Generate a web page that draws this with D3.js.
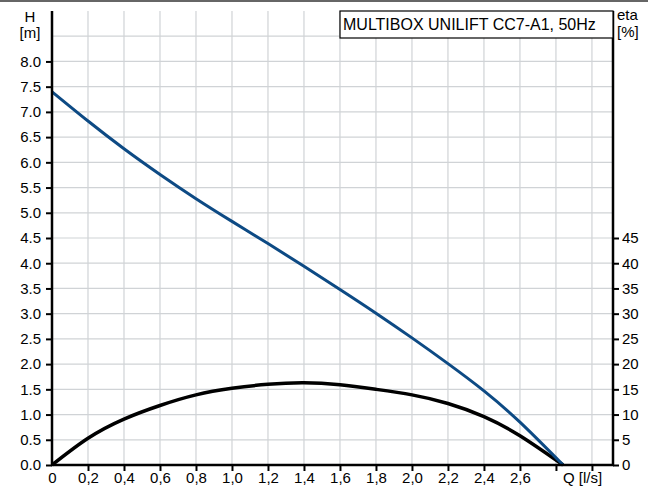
<!DOCTYPE html>
<html>
<head>
<meta charset="utf-8">
<script src="https://cdn.jsdelivr.net/npm/d3@7"></script>
<style>
  body { margin: 0; background: #fff; }
  svg { display: block; font-family: "Liberation Sans", Arial, sans-serif; }
</style>
</head>
<body>
<div id="chart"></div>
<script>
// Flow rate Q [l/s] where curves were read
var flow = [0, 0.2, 0.4, 0.6, 0.8, 1.0, 1.2, 1.4, 1.6, 1.8, 2.0, 2.2, 2.4, 2.6, 2.84];
// Head H [m]
var head = [7.40, 6.82, 6.27, 5.76, 5.28, 4.83, 4.39, 3.94, 3.48, 3.01, 2.52, 2.01, 1.47, 0.85, 0];
// Efficiency eta [%]
var eta = [0, 5.3, 9.1, 11.8, 13.9, 15.2, 16.0, 16.3, 15.9, 15.0, 13.9, 12.2, 9.6, 5.8, 0];

var hTicks = [0, 0.5, 1.0, 1.5, 2.0, 2.5, 3.0, 3.5, 4.0, 4.5, 5.0, 5.5, 6.0, 6.5, 7.0, 7.5, 8.0];
var etaTicks = [0, 5, 10, 15, 20, 25, 30, 35, 40, 45];
var title = "MULTIBOX UNILIFT CC7-A1, 50Hz";

var W = 648, H = 487;
var plot = {left: 52, right: 613, top: 11, bottom: 465};

var svg = d3.select("#chart").append("svg")
  .attr("width", W).attr("height", H);

var x = d3.scaleLinear().domain([0, 3.117]).range([plot.left, plot.right]);
var y = d3.scaleLinear().domain([0, 9]).range([plot.bottom, plot.top]);
var yEta = d3.scaleLinear().domain([0, 90]).range([plot.bottom, plot.top]);

// top frame line
svg.append("line")
  .attr("x1", 0).attr("x2", W).attr("y1", 1).attr("y2", 1)
  .attr("stroke", "#666").attr("stroke-width", 2);

// grid
var grid = svg.append("g").attr("stroke", "#d0d3d6").attr("stroke-width", 1.2);
d3.range(1, 16).forEach(function(i) {
  var xv = x(i * 0.2);
  grid.append("line").attr("x1", xv).attr("x2", xv).attr("y1", plot.top).attr("y2", plot.bottom);
});
d3.range(1, 18).forEach(function(i) {
  var yv = y(i * 0.5);
  grid.append("line").attr("x1", plot.left).attr("x2", plot.right).attr("y1", yv).attr("y2", yv);
});

// curves
var lineH = d3.line()
  .x(function(d, i) { return x(flow[i]); })
  .y(function(d) { return y(d); })
  .curve(d3.curveNatural);
var lineEta = d3.line()
  .x(function(d, i) { return x(flow[i]); })
  .y(function(d) { return yEta(d); })
  .curve(d3.curveNatural);

svg.append("path").datum(eta)
  .attr("fill", "none").attr("stroke", "#000").attr("stroke-width", 3.5)
  .attr("d", lineEta);
svg.append("path").datum(head)
  .attr("fill", "none").attr("stroke", "#0d4a84").attr("stroke-width", 3)
  .attr("d", lineH);

// axes
var axisLeft = d3.axisLeft(y).tickValues(hTicks).tickSize(6).tickPadding(5)
  .tickFormat(d3.format(".1f"));
var gl = svg.append("g").attr("transform", "translate(" + plot.left + ",0)").call(axisLeft);

var axisRight = d3.axisRight(yEta).tickValues(etaTicks).tickSize(6).tickPadding(3)
  .tickFormat(d3.format("d"));
var gr = svg.append("g").attr("transform", "translate(" + plot.right + ",0)").call(axisRight);

var axisBottom = d3.axisBottom(x)
  .tickValues(d3.range(0, 16).map(function(i) { return i * 0.2; }))
  .tickSize(6).tickPadding(1)
  .tickFormat(function(d) {
    if (d === 0) return "0";
    if (d > 2.7) return "";
    return d3.format(".1f")(d).replace(".", ",");
  });
var gb = svg.append("g").attr("transform", "translate(0," + plot.bottom + ")").call(axisBottom);

[gl, gr, gb].forEach(function(g) {
  g.select(".domain").remove();
  g.selectAll(".tick line").attr("stroke", "#000").attr("stroke-width", 2);
  g.selectAll(".tick text").attr("fill", "#000").style("font-size", "15px")
    .style("font-family", "'Liberation Sans', Arial, sans-serif");
});
gb.selectAll(".tick").filter(function(d) { return d === 0; }).select("line").remove();

// axis lines
var ax = svg.append("g").attr("stroke", "#000").attr("stroke-width", 2.5);
ax.append("line").attr("x1", plot.left).attr("x2", plot.left).attr("y1", plot.top).attr("y2", plot.bottom + 1);
ax.append("line").attr("x1", plot.right).attr("x2", plot.right).attr("y1", plot.top).attr("y2", plot.bottom + 1);
ax.append("line").attr("x1", plot.left - 1).attr("x2", plot.right + 1).attr("y1", plot.bottom).attr("y2", plot.bottom);

// title box
svg.append("rect")
  .attr("x", 340).attr("y", plot.top).attr("width", plot.right - 340).attr("height", 27)
  .attr("fill", "#fff").attr("stroke", "#000").attr("stroke-width", 1.2);
svg.append("text").attr("x", 343).attr("y", 30).style("font-size", "16px").text(title);

// axis titles
svg.append("text").attr("x", 30).attr("y", 22).attr("text-anchor", "middle").style("font-size", "15px").text("H");
svg.append("text").attr("x", 30).attr("y", 38).attr("text-anchor", "middle").style("font-size", "15px").text("[m]");
svg.append("text").attr("x", 617).attr("y", 20).style("font-size", "15px").text("eta");
svg.append("text").attr("x", 617).attr("y", 37).style("font-size", "15px").text("[%]");
svg.append("text").attr("x", 563).attr("y", 483).style("font-size", "15px").text("Q [l/s]");
</script>
</body>
</html>
